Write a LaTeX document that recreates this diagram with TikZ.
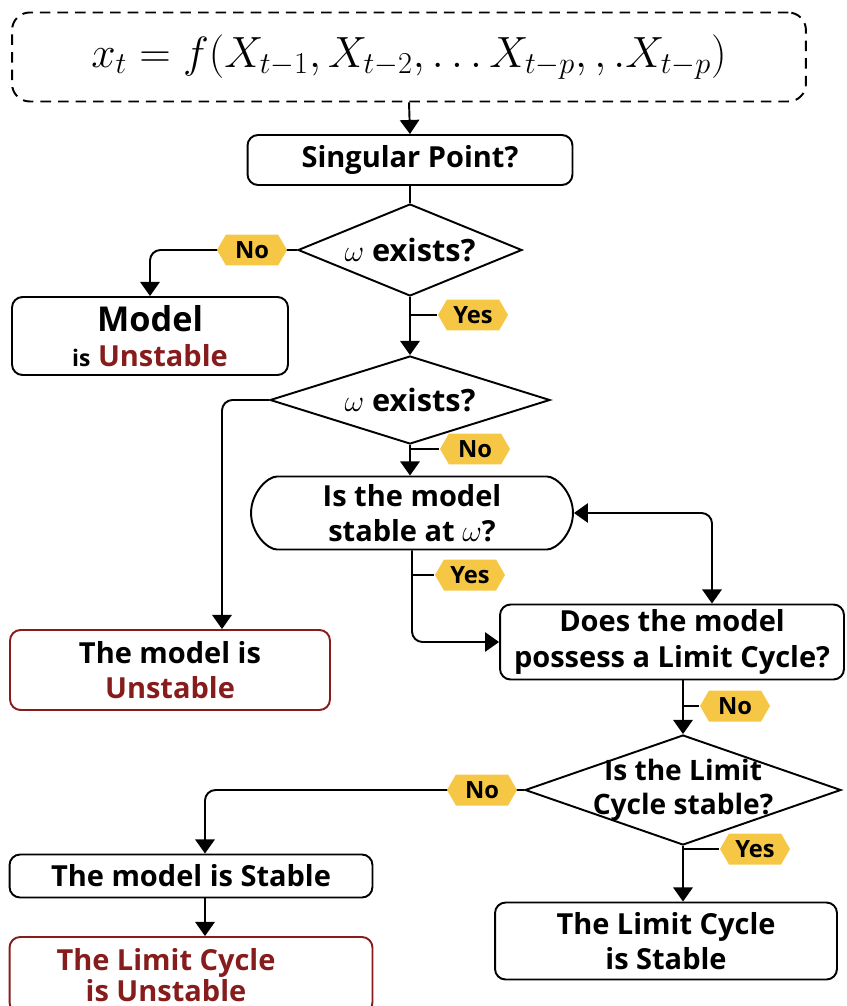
\documentclass[tikz,border=0pt]{standalone}
\usepackage{fontspec}
\setmainfont{Open Sans}
\usetikzlibrary{arrows.meta,shapes.geometric,shapes.misc,shapes.symbols}
\definecolor{tagyellow}{HTML}{F6C745}
\definecolor{unstred}{HTML}{861C1C}
\begin{document}
\begin{tikzpicture}[x=0.02cm,y=-0.02cm,
  line width=1.1pt,
  >={Triangle[width=11pt,length=8pt]},
  box/.style={draw, rounded corners=6pt, align=center, inner sep=2pt,
    font=\fontsize{16.5}{20}\selectfont\bfseries},
  redbox/.style={box, draw=unstred},
  stadium/.style={box, rounded rectangle},
  decision/.style={draw, diamond, inner sep=0pt},
  dtext/.style={align=center, font=\fontsize{16}{19}\selectfont\bfseries},
  tag/.style={signal, signal to=east and west, signal pointer angle=120,
    fill=tagyellow, inner sep=1.5pt, minimum width=1.4cm, minimum height=0.62cm,
    font=\fontsize{13.5}{15}\selectfont\bfseries},
  link/.style={rounded corners=6pt}]
\useasboundingbox (0,0) rectangle (847,1006);

% top equation
\node[draw, dash pattern=on 6pt off 4pt, rounded corners=10pt, minimum width=15.88cm, minimum height=1.78cm] (eq) at (409,57)
  {\fontsize{25}{30}\selectfont $x_t = f(X_{t-1},X_{t-2},\ldots X_{t-p},,.X_{t-p})$};

% main chain
\node[box, minimum width=6.5cm, minimum height=1.0cm] (sing) at (410,160) {Singular Point?};
\node[decision, minimum width=4.48cm, minimum height=1.84cm,
  label={[dtext, font=\fontsize{17.5}{20}\selectfont\bfseries]center:$\omega$ exists?}] (exist1) at (410,250) {};
\node[box, minimum width=5.52cm, minimum height=1.56cm] (model) at (150,336)
  {\fontsize{19.5}{24}\selectfont Model\\{\fontsize{13}{16}\selectfont is} \textcolor{unstred}{\fontsize{16.5}{20}\selectfont Unstable}};
\node[decision, minimum width=5.6cm, minimum height=1.76cm,
  label={[dtext, font=\fontsize{17.5}{20}\selectfont\bfseries]center:$\omega$ exists?}] (exist2) at (410,400) {};
\node[stadium, minimum width=6.58cm, minimum height=1.46cm] (atomega) at (412,513)
  {Is the model\\stable at $\omega$?};
\node[redbox, minimum width=6.4cm, minimum height=1.6cm] (unst) at (170,670)
  {The model is\\\textcolor{unstred}{Unstable}};
\node[box, minimum width=6.88cm, minimum height=1.5cm] (cycle) at (672,642)
  {Does the model\\possess a Limit Cycle?};
\node[decision, minimum width=6.32cm, minimum height=2.2cm,
  label={[dtext]center:Is the Limit\\Cycle stable?}] (lcstab) at (683,790) {};
\node[box, minimum width=7.26cm, minimum height=0.86cm] (stable) at (191,876) {The model is Stable};
\node[box, minimum width=6.84cm, minimum height=1.54cm] (lcyes) at (666,941)
  {The Limit Cycle\\is Stable};
\node[redbox, text=unstred, font=\fontsize{16.5}{17.5}\selectfont\bfseries,
  minimum width=7.26cm, minimum height=1.52cm] (lcno) at (191,975)
  {The Limit Cycle\hspace*{1cm}\\is Unstable\hspace*{1cm}};

% connectors
\draw[->] (eq.south) -- (sing.north);
\draw (sing.south) -- (exist1.north);
\draw[->, link] (exist1.west) -| (model.north);
\draw[->] (exist1.south) -- (exist2.north);
\draw[->, link] (exist2.west) -| ([xshift=1.04cm]unst.north);
\draw[->] (exist2.south) -- (atomega.north -| exist2.south);
\draw[<->, link] (atomega.east) -| ([xshift=0.8cm]cycle.north);
\draw[->, link] (atomega.south) |- (cycle.west);
\draw[->] (lcstab.north |- cycle.south) -- (lcstab.north);
\draw[->, link] (lcstab.west) -| ([xshift=0.28cm]stable.north);
\draw[->] (lcstab.south) -- (lcstab.south |- lcyes.north);
\draw[->] ([xshift=0.28cm]stable.south) -- ([xshift=0.28cm]lcno.north);

% yes / no tags
\node[tag] (no1) at (252,250) {No};
\node[tag] (yes1) at (473,315) {Yes};
\node[tag] (no2) at (475,449) {No};
\node[tag] (yes2) at (470,575) {Yes};
\node[tag] (no3) at (735,706) {No};
\node[tag] (no4) at (482,790) {No};
\node[tag] (yes3) at (755,849) {Yes};
\draw (exist1.south |- yes1.west) -- (yes1.west);
\draw (exist2.south |- no2.west) -- (no2.west);
\draw (atomega.south |- yes2.west) -- (yes2.west);
\draw (lcstab.north |- no3.west) -- (no3.west);
\draw (lcstab.south |- yes3.west) -- (yes3.west);
\end{tikzpicture}
\end{document}
